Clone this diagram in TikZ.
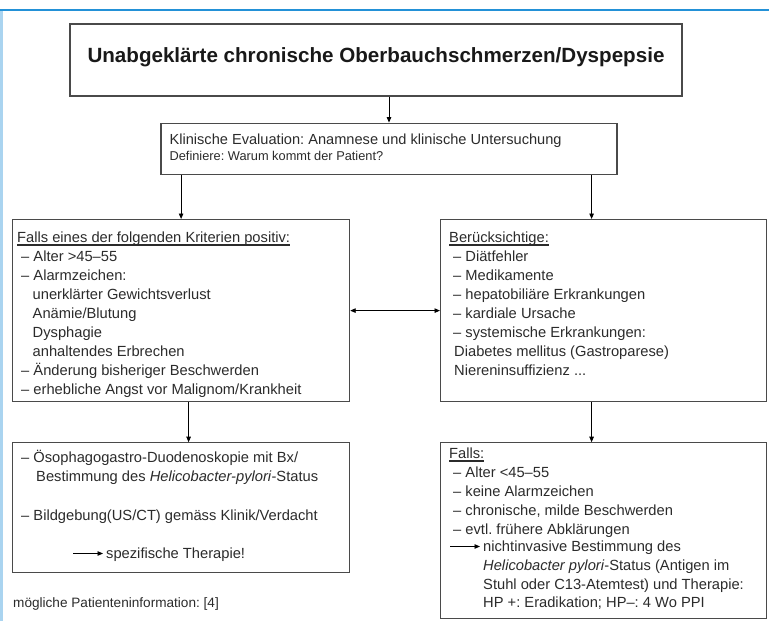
\documentclass[tikz,border=0pt]{standalone}
\usepackage{fontspec}
\setmainfont{Liberation Sans}
\usetikzlibrary{arrows.meta,positioning}
\definecolor{frameBlue}{RGB}{35,145,215}
\definecolor{frameLight}{RGB}{170,212,240}
\definecolor{boxGray}{HTML}{4A4A4A}
\definecolor{textDark}{HTML}{2B2B2B}
\frenchspacing
% underlined heading with a heavy rule
\newcommand{\hdr}[1]{\setbox0=\hbox{#1}\rlap{\rule[-3.3pt]{\wd0}{1.5pt}}\box0}

\begin{document}
\begin{tikzpicture}[x=1pt, y=-1pt,
    box/.style={draw=boxGray, line width=1.2pt, inner sep=0pt},
    txt/.style={inner sep=0pt, align=left, text=textDark,
      font=\fontsize{14.7}{19}\selectfont},
    arr/.style={-{Triangle[length=5.5pt,width=4.5pt]}, line width=0.9pt},
    arrboth/.style={{Triangle[length=5.5pt,width=4.5pt]}-{Triangle[length=5.5pt,width=4.5pt]}, line width=0.9pt}]
  \useasboundingbox (0,0) rectangle (769,621);
  \draw[frameBlue, line width=1.5pt] (0,10) -- (769,10);
  \draw[frameLight, line width=2.5pt] (1.25,10.8) -- (1.25,621);

  % title and evaluation
  \node[box, minimum width=612pt, minimum height=72pt, text height=12pt, text depth=7pt,
    font=\fontsize{20.6}{24}\selectfont\bfseries, text=black!90] (title) at (376,60)
    {Unabgeklärte chronische Oberbauchschmerzen/Dyspepsie};
  \node[box, below=26pt of title, xshift=13pt, minimum width=456pt, minimum height=51pt] (klin) {};
  \node[txt, font=\fontsize{14.6}{16}\selectfont, below right=10.8pt and 9pt of klin.north west] (klinText)
    {\strut Klinische Evaluation: Anamnese und klinische Untersuchung\\
     {\fontsize{12.8}{16}\selectfont Definiere: Warum kommt der Patient?}};

  % criteria / differential
  \node[box, anchor=north west, minimum width=337pt, minimum height=182pt] (krit) at (12,219) {};
  \node[txt, below right=9.7pt and 5pt of krit.north west] (kritText)
    {\strut\hdr{Falls eines der folgenden Kriterien positiv:}\\
     \hspace*{4pt}– Alter >45–55\\
     \hspace*{4pt}– Alarmzeichen:\\
     \hspace*{15.5pt}unerklärter Gewichtsverlust\\
     \hspace*{15.5pt}Anämie/Blutung\\
     \hspace*{15.5pt}Dysphagie\\
     \hspace*{15.5pt}anhaltendes Erbrechen\\
     \hspace*{4pt}– Änderung bisheriger Beschwerden\\
     \hspace*{4pt}– erhebliche Angst vor Malignom/Krankheit};
  \node[box, anchor=north west, minimum width=326pt, minimum height=182pt] (cons) at (440,219) {};
  \node[txt, below right=9.7pt and 9pt of cons.north west] (consText)
    {\strut\hdr{Berücksichtige:}\\
     \hspace*{4pt}– Diätfehler\\
     \hspace*{4pt}– Medikamente\\
     \hspace*{4pt}– hepatobiliäre Erkrankungen\\
     \hspace*{4pt}– kardiale Ursache\\
     \hspace*{4pt}– systemische Erkrankungen:\\
     \hspace*{5pt}Diabetes mellitus (Gastroparese)\\
     \hspace*{5pt}Niereninsuffizienz ...};

  % work-up
  \node[box, below=40pt of krit, minimum width=337pt, minimum height=130pt] (endo) {};
  \node[txt, font=\fontsize{14.7}{19.3}\selectfont, below right=6.5pt and 9pt of endo.north west] (endoText)
    {\strut– Ösophagogastro-Duodenoskopie mit Bx/\\
     \hspace*{15pt}Bestimmung des \textit{Helicobacter-pylori}-Status\\[19.3pt]
     – Bildgebung(US/CT) gemäss Klinik/Verdacht};
  \node[txt, anchor=base west] (therapie) at (106,558) {spezifische Therapie!};
  \coordinate (therStart) at (73,553.5);
  \draw[arr, shorten >=3pt] (therStart) -- (therStart -| therapie.west);

  \node[box, below=40pt of cons, minimum width=326pt, minimum height=176pt] (hpbox) {};
  \node[txt, font=\fontsize{14.7}{18.9}\selectfont, below right=2.8pt and 9pt of hpbox.north west] (fallsText)
    {\strut\hdr{Falls:}\\
     \hspace*{4pt}– Alter <45–55\\
     \hspace*{4pt}– keine Alarmzeichen\\
     \hspace*{4pt}– chronische, milde Beschwerden\\
     \hspace*{4pt}– evtl. frühere Abklärungen};
  \node[txt, font=\fontsize{14.7}{18.9}\selectfont, anchor=north west] (hpText) at (483,537.8)
    {\strut nichtinvasive Bestimmung des\\
     \textit{Helicobacter pylori}-Status (Antigen im\\
     Stuhl oder C13-Atemtest) und Therapie:\\
     HP +: Eradikation; HP–: 4 Wo PPI};
  \coordinate (hpStart) at (450,546.5);
  \draw[arr, shorten >=3pt] (hpStart) -- (hpStart -| hpText.west);

  \node[txt, anchor=base west, font=\fontsize{13.6}{16}\selectfont] (note) at (13,607)
    {mögliche Patienteninformation: [4]};

  % connectors
  \draw[arr] (title.south -| klin.north) -- (klin.north);
  \draw[arr] (klin.south -| krit.north) -- (krit.north);
  \coordinate (consIn) at ([xshift=-12pt]cons.north);
  \draw[arr] (klin.south -| consIn) -- (consIn);
  \draw[arr] ([xshift=7.5pt]krit.south) -- ([xshift=7.5pt]endo.north);
  \draw[arr] ([xshift=-12pt]cons.south) -- ([xshift=-12pt]hpbox.north);
  \draw[arrboth] (krit.east) -- (cons.west);
\end{tikzpicture}
\end{document}
